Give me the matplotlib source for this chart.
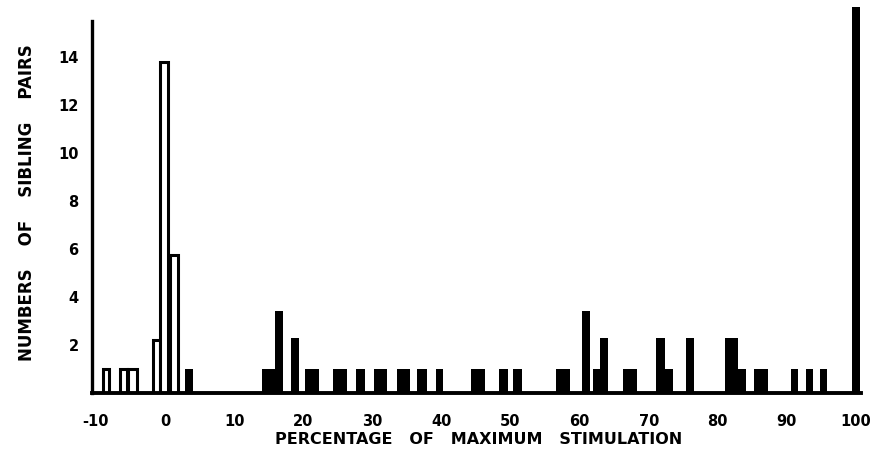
import matplotlib
matplotlib.use("Agg")
import matplotlib.pyplot as plt

# 데이터: 형제쌍 수 (막대 중심, 폭, 높이)
open_pos = [-8.5, -6.0, -4.7, -1.2, -0.15, 1.3]
open_w = [0.9, 1.1, 1.2, 1.0, 1.1, 1.2]
open_h = [1, 1, 1, 2.2, 13.8, 5.75]

filled_pos = [3.5, 15.0, 16.5, 18.8, 21.3, 25.3, 28.3, 31.2, 34.5, 37.2, 39.7,
              45.3, 49.0, 51.0, 57.6, 60.9, 62.4, 63.5, 67.3, 71.7, 72.9, 76.0,
              82.0, 83.5, 86.2, 91.1, 93.3, 95.3, 100.0]
filled_w = [1.2, 1.9, 1.2, 1.2, 2.1, 2.0, 1.3, 1.9, 1.9, 1.4, 1.0,
            2.0, 1.3, 1.3, 2.0, 1.2, 1.0, 1.2, 2.0, 1.3, 1.2, 1.2,
            1.9, 1.3, 2.0, 1.0, 1.0, 1.1, 1.2]
filled_h = [1, 1, 3.4, 2.3, 1, 1, 1, 1, 1, 1, 1,
            1, 1, 1, 1, 3.4, 1, 2.3, 1, 2.3, 1, 2.3,
            2.3, 1, 1, 1, 1, 1, 16.1]

x_ticks = [-10, 0, 10, 20, 30, 40, 50, 60, 70, 80, 90, 100]
y_ticks = [2, 4, 6, 8, 10, 12, 14]

plt.rcParams['font.family'] = ['DejaVu Sans']
plt.rcParams['font.weight'] = 'heavy'

fig = plt.figure(figsize=(8.76, 4.72), dpi=100)
ax = fig.add_axes([0.1055, 0.1674, 0.8772, 0.8237])

# 속이 빈 막대
ax.bar(open_pos, open_h, width=open_w, facecolor='white', edgecolor='black',
       linewidth=2.2, zorder=2)
# 검은 막대
ax.bar(filled_pos, filled_h, width=filled_w, color='black', linewidth=0, zorder=2)

ax.set_xlim(-10.5, 100.7)
ax.set_ylim(0, 16.2)

for s in ['top', 'right']:
    ax.spines[s].set_visible(False)
ax.spines['left'].set_linewidth(2.4)
ax.spines['bottom'].set_linewidth(2.8)
ax.spines['left'].set_bounds(0, 15.5)
ax.spines['bottom'].set_zorder(3)

ax.set_xticks(x_ticks)
ax.set_xticklabels([str(v) for v in x_ticks], fontsize=10.5, fontweight='heavy')
ax.set_yticks(y_ticks)
ax.set_yticklabels([str(v) for v in y_ticks], fontsize=10.5, fontweight='heavy')
ax.tick_params(axis='x', length=0, pad=15)
ax.tick_params(axis='y', length=0, pad=10)

fig.text(0.546, 0.068, 'PERCENTAGE   OF   MAXIMUM   STIMULATION',
         ha='center', va='center', fontsize=11.5, fontweight='heavy')
fig.text(0.031, 0.57, 'NUMBERS    OF    SIBLING    PAIRS', rotation=90,
         ha='center', va='center', fontsize=12, fontweight='heavy')

fig.savefig('out.png', dpi=100)
